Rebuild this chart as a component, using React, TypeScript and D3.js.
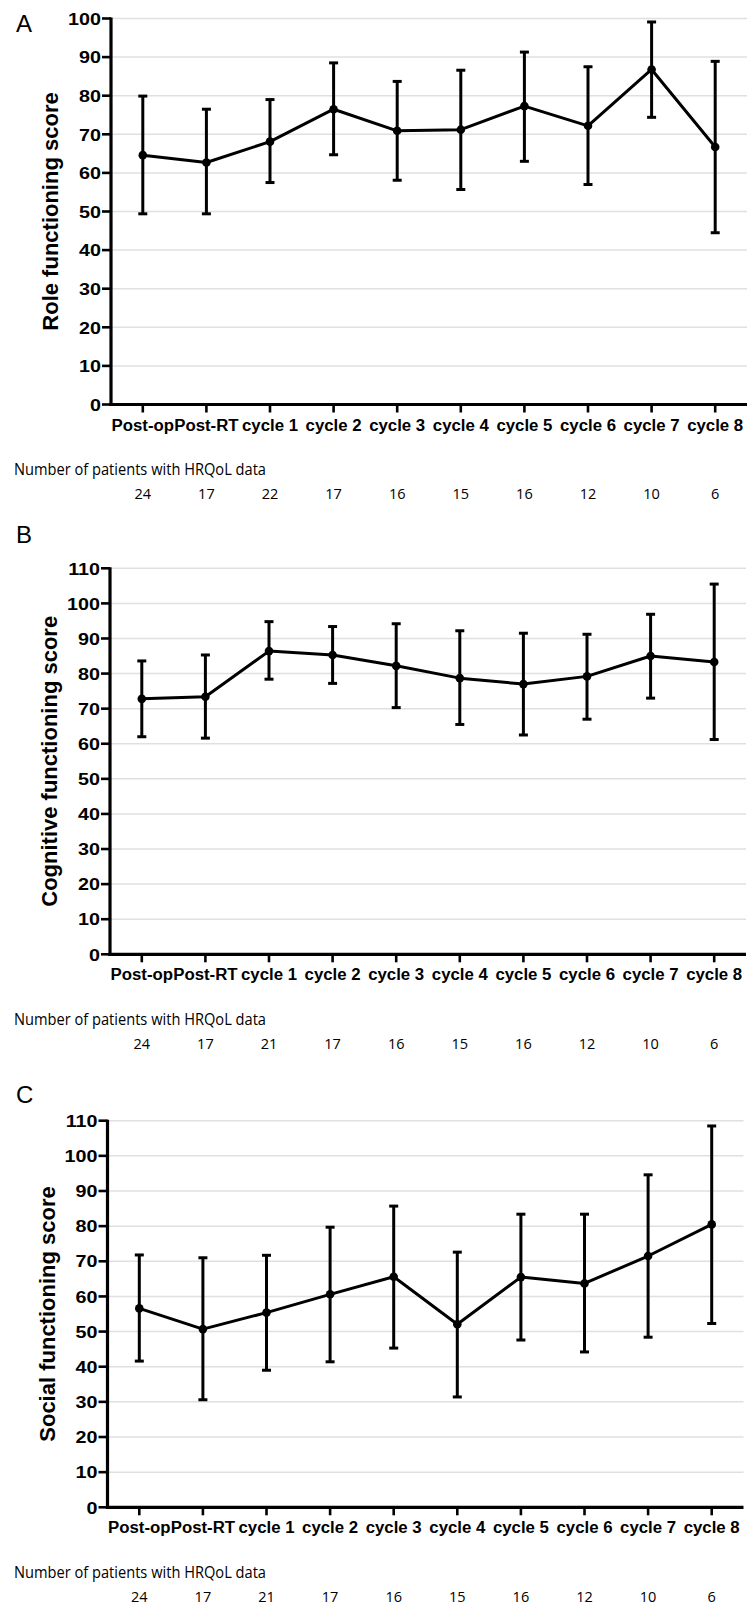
import React from "react";
import * as d3 from "d3";

// time points on the x axis
const categories = [
  "Post-op",
  "Post-RT",
  "cycle 1",
  "cycle 2",
  "cycle 3",
  "cycle 4",
  "cycle 5",
  "cycle 6",
  "cycle 7",
  "cycle 8",
];

// A: role functioning
const roleMean = [64.6, 62.7, 68.1, 76.5, 70.9, 71.2, 77.3, 72.2, 86.8, 66.7];
const roleUpper = [79.9, 76.5, 79.0, 88.5, 83.7, 86.6, 91.3, 87.5, 99.1, 88.9];
const roleLower = [49.4, 49.4, 57.5, 64.7, 58.1, 55.7, 63.0, 57.0, 74.4, 44.5];
const roleN = [24, 17, 22, 17, 16, 15, 16, 12, 10, 6];

// B: cognitive functioning
const cogMean = [72.8, 73.4, 86.4, 85.3, 82.2, 78.7, 77.0, 79.2, 85.0, 83.3];
const cogUpper = [83.6, 85.3, 94.8, 93.4, 94.2, 92.2, 91.5, 91.2, 96.9, 105.5];
const cogLower = [62.0, 61.6, 78.4, 77.2, 70.3, 65.5, 62.5, 67.0, 73.0, 61.2];
const cogN = [24, 17, 21, 17, 16, 15, 16, 12, 10, 6];

// C: social functioning
const socialMean = [56.6, 50.7, 55.4, 60.6, 65.6, 52.1, 65.5, 63.7, 71.5, 80.5];
const socialUpper = [71.8, 71.0, 71.7, 79.7, 85.7, 72.6, 83.4, 83.4, 94.6, 108.5];
const socialLower = [41.6, 30.6, 39.0, 41.4, 45.3, 31.4, 47.6, 44.2, 48.4, 52.3];
const socialN = [24, 17, 21, 17, 16, 15, 16, 12, 10, 6];

const ticksTo100 = [0, 10, 20, 30, 40, 50, 60, 70, 80, 90, 100];
const ticksTo110 = [0, 10, 20, 30, 40, 50, 60, 70, 80, 90, 100, 110];

const countsCaption = "Number of patients with HRQoL data";

const BOLD = "'Liberation Sans', Arial, Helvetica, sans-serif";
const PLAIN = "'Open Sans', 'Noto Sans', sans-serif";

type PanelProps = {
  letter: string;
  letterY: number;
  title: string;
  mean: number[];
  upper: number[];
  lower: number[];
  counts: number[];
  ticks: number[];
  left: number;
  top: number;
  bottom: number;
};

const Panel = ({
  letter,
  letterY,
  title,
  mean,
  upper,
  lower,
  counts,
  ticks,
  left,
  top,
  bottom,
}: PanelProps) => {
  const right = left + 636;
  const x = d3.scaleBand().domain(categories).range([left, right]);
  const cx = (i: number) => (x(categories[i]) ?? 0) + x.bandwidth() / 2;
  const y = d3
    .scaleLinear()
    .domain([0, d3.max(ticks) ?? 100])
    .range([bottom, top]);

  const path = d3
    .line<number>()
    .x((_, i) => cx(i))
    .y((d) => y(d))(mean);

  const capHalf = 4.5;

  return (
    <g>
      <text x={16} y={letterY} fontFamily={BOLD} fontSize={24} fill="#000">
        {letter}
      </text>

      {/* grid */}
      {ticks.map((t) =>
        t === 0 ? null : (
          <line
            key={"g" + t}
            x1={left}
            x2={right}
            y1={y(t)}
            y2={y(t)}
            stroke="#e0e0e0"
            strokeWidth={1.5}
          />
        )
      )}

      {/* y axis */}
      <line x1={left} x2={left} y1={y(d3.max(ticks) ?? 0) - 1} y2={bottom + 1.5} stroke="#000" strokeWidth={3.2} />
      {ticks.map((t) => (
        <g key={"yt" + t}>
          <line x1={left - 9} x2={left} y1={y(t)} y2={y(t)} stroke="#000" strokeWidth={2.6} />
          <text
            transform={`translate(${left - 10},${y(t) + 6.2}) scale(1.16,1)`}
            textAnchor="end"
            fontFamily={BOLD}
            fontWeight="bold"
            fontSize={17}
          >
            {t}
          </text>
        </g>
      ))}
      <text
        transform={`translate(${left - 53},${(top + bottom) / 2}) rotate(-90)`}
        textAnchor="middle"
        fontFamily={BOLD}
        fontWeight="bold"
        fontSize={22}
      >
        {title}
      </text>

      {/* x axis */}
      <line x1={left - 1.6} x2={right} y1={bottom} y2={bottom} stroke="#000" strokeWidth={3.2} />
      {categories.map((c, i) => (
        <g key={c}>
          <line x1={cx(i)} x2={cx(i)} y1={bottom} y2={bottom + 8} stroke="#000" strokeWidth={2.6} />
          <text
            x={cx(i)}
            y={bottom + 26}
            textAnchor="middle"
            fontFamily={BOLD}
            fontWeight="bold"
            fontSize={16.8}
          >
            {c}
          </text>
        </g>
      ))}

      {/* error bars */}
      {mean.map((_, i) => (
        <g key={"e" + i} stroke="#000" strokeWidth={3}>
          <line x1={cx(i)} x2={cx(i)} y1={y(lower[i])} y2={y(upper[i])} />
          <line x1={cx(i) - capHalf} x2={cx(i) + capHalf} y1={y(upper[i])} y2={y(upper[i])} />
          <line x1={cx(i) - capHalf} x2={cx(i) + capHalf} y1={y(lower[i])} y2={y(lower[i])} />
        </g>
      ))}

      <path d={path ?? ""} fill="none" stroke="#000" strokeWidth={3} strokeLinejoin="round" />
      {mean.map((m, i) => (
        <circle key={"p" + i} cx={cx(i)} cy={y(m)} r={4.3} fill="#000" />
      ))}

      {/* patient counts */}
      <text
        x={14}
        y={bottom + 70.5}
        fontFamily={PLAIN}
        fontSize={15.5}
        textLength={252}
        lengthAdjust="spacingAndGlyphs"
      >
        {countsCaption}
      </text>
      {counts.map((n, i) => (
        <text
          key={"n" + i}
          x={cx(i)}
          y={bottom + 94.5}
          textAnchor="middle"
          fontFamily={PLAIN}
          fontSize={14.5}
        >
          {n}
        </text>
      ))}
    </g>
  );
};

const App = () => {
  return (
    <svg
      width={749}
      height={1605}
      viewBox="0 0 749 1605"
      style={{ position: "absolute", left: 0, top: 0, background: "#fff" }}
    >
      <rect width={749} height={1605} fill="#fff" />
      <Panel
        letter="A"
        letterY={32}
        title="Role functioning score"
        mean={roleMean}
        upper={roleUpper}
        lower={roleLower}
        counts={roleN}
        ticks={ticksTo100}
        left={111}
        top={18.5}
        bottom={404.5}
      />
      <Panel
        letter="B"
        letterY={543}
        title="Cognitive functioning score"
        mean={cogMean}
        upper={cogUpper}
        lower={cogLower}
        counts={cogN}
        ticks={ticksTo110}
        left={110}
        top={568.3}
        bottom={954.3}
      />
      <Panel
        letter="C"
        letterY={1103}
        title="Social functioning score"
        mean={socialMean}
        upper={socialUpper}
        lower={socialLower}
        counts={socialN}
        ticks={ticksTo110}
        left={107.5}
        top={1120.7}
        bottom={1507.3}
      />
    </svg>
  );
};

export default App;
